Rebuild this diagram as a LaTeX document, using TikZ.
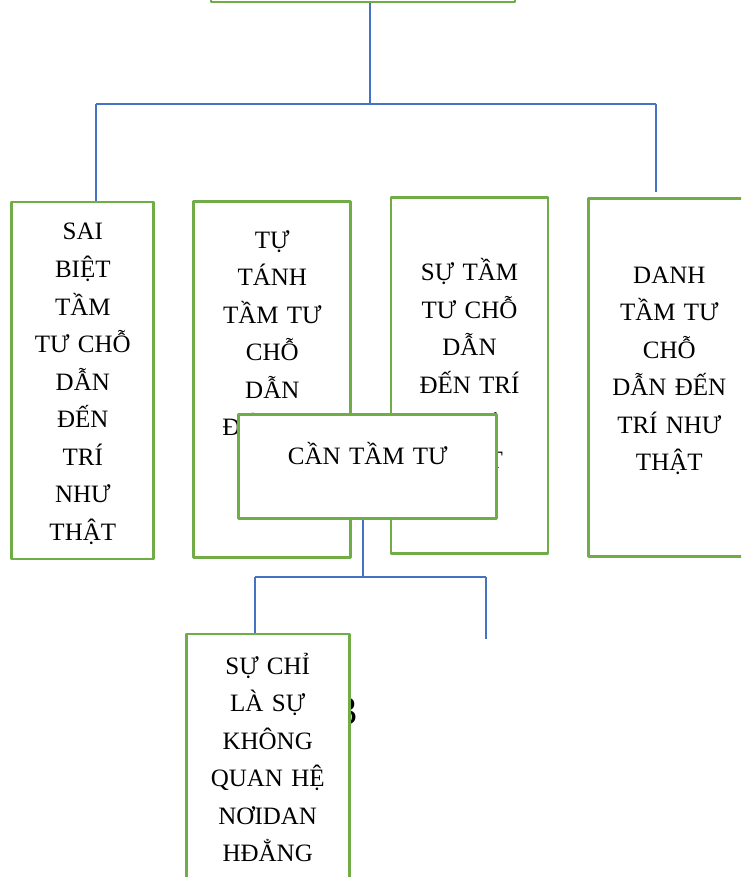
\documentclass[tikz,border=0pt]{standalone}
\usepackage{fontspec}
\setmainfont{Liberation Serif}
\definecolor{vienxanh}{HTML}{70AD47}
\definecolor{noixanh}{HTML}{4472C4}
\tikzset{
  hop/.style={draw=vienxanh,line width=2.8pt,fill=white,inner sep=0pt,align=center,
    font=\fontsize{25}{37.5}\selectfont,text height=0pt},
  noi/.style={draw=noixanh,line width=1.2pt}
}
\begin{document}
\begin{tikzpicture}[x=1pt,y=-1pt,line join=round]
		\useasboundingbox (0,0) rectangle (741,877);
		\clip (0,0) rectangle (741,877);
		\node[hop,minimum width=304pt,minimum height=80pt] (goc) at (363,-38) {};
		\coordinate (giua) at (370,104);
		\coordinate (trai) at (96,104);
		\coordinate (phai) at (656,104);
		\node[hop,minimum width=142pt,minimum height=357pt,text width=136pt,text depth=281pt] (saibiet) at (82.8,380.5)
			{SAI\\BIỆT\\TẦM\\TƯ CHỖ\\DẪN\\ĐẾN\\TRÍ\\NHƯ\\THẬT};
		\node[hop,minimum width=157pt,minimum height=356pt,text width=150pt,text depth=263pt] (tutanh) at (272.3,379.7)
			{TỰ\\TÁNH\\TẦM TƯ\\CHỖ\\DẪN\\ĐẾN TRÍ\\NHƯ\\THẬT};
		\node[hop,minimum width=157pt,minimum height=356pt,text width=150pt,text depth=189pt] (sutam) at (469.5,375.3)
			{SỰ TẦM\\TƯ CHỖ\\DẪN\\ĐẾN TRÍ\\NHƯ\\THẬT};
		\node[hop,minimum width=162pt,minimum height=358pt,text width=155pt,text depth=189pt] (danh) at (669.3,377.5)
			{DANH\\TẦM TƯ\\CHỖ\\DẪN ĐẾN\\TRÍ NHƯ\\THẬT};
		\draw[noi] (goc.south -| giua) -- (giua);
		\draw[noi] (trai) -- (phai);
		\draw[noi] (trai) -- (trai |- saibiet.north);
		\draw[noi,shorten >=5pt] (phai) -- (phai |- danh.north);
		\node[anchor=base,inner sep=0pt,font=\fontsize{40}{40}\selectfont] (ba) at (347,724) {3};
		\node[hop,minimum width=163pt,minimum height=267pt,text width=156pt,text depth=187pt] (suchi) at (267.7,767.5)
			{SỰ CHỈ\\LÀ SỰ\\KHÔNG\\QUAN HỆ\\NƠIDAN\\HĐẲNG};
		\node[hop,minimum width=258pt,minimum height=104pt,text width=250pt,text depth=3pt] (can) at (367.8,466.3)
			{CẦN TẦM TƯ};
		\coordinate (duoi) at (363,577);
		\coordinate (duoitrai) at (255,577);
		\coordinate (duoiphai) at (486,577);
		\coordinate (cuoiphai) at (486,639);
		\draw[noi] (can.south -| duoi) -- (duoi);
		\draw[noi] (duoitrai) -- (duoiphai);
		\draw[noi] (duoitrai) -- (duoitrai |- suchi.north);
		\draw[noi] (duoiphai) -- (cuoiphai);
\end{tikzpicture}
\end{document}
